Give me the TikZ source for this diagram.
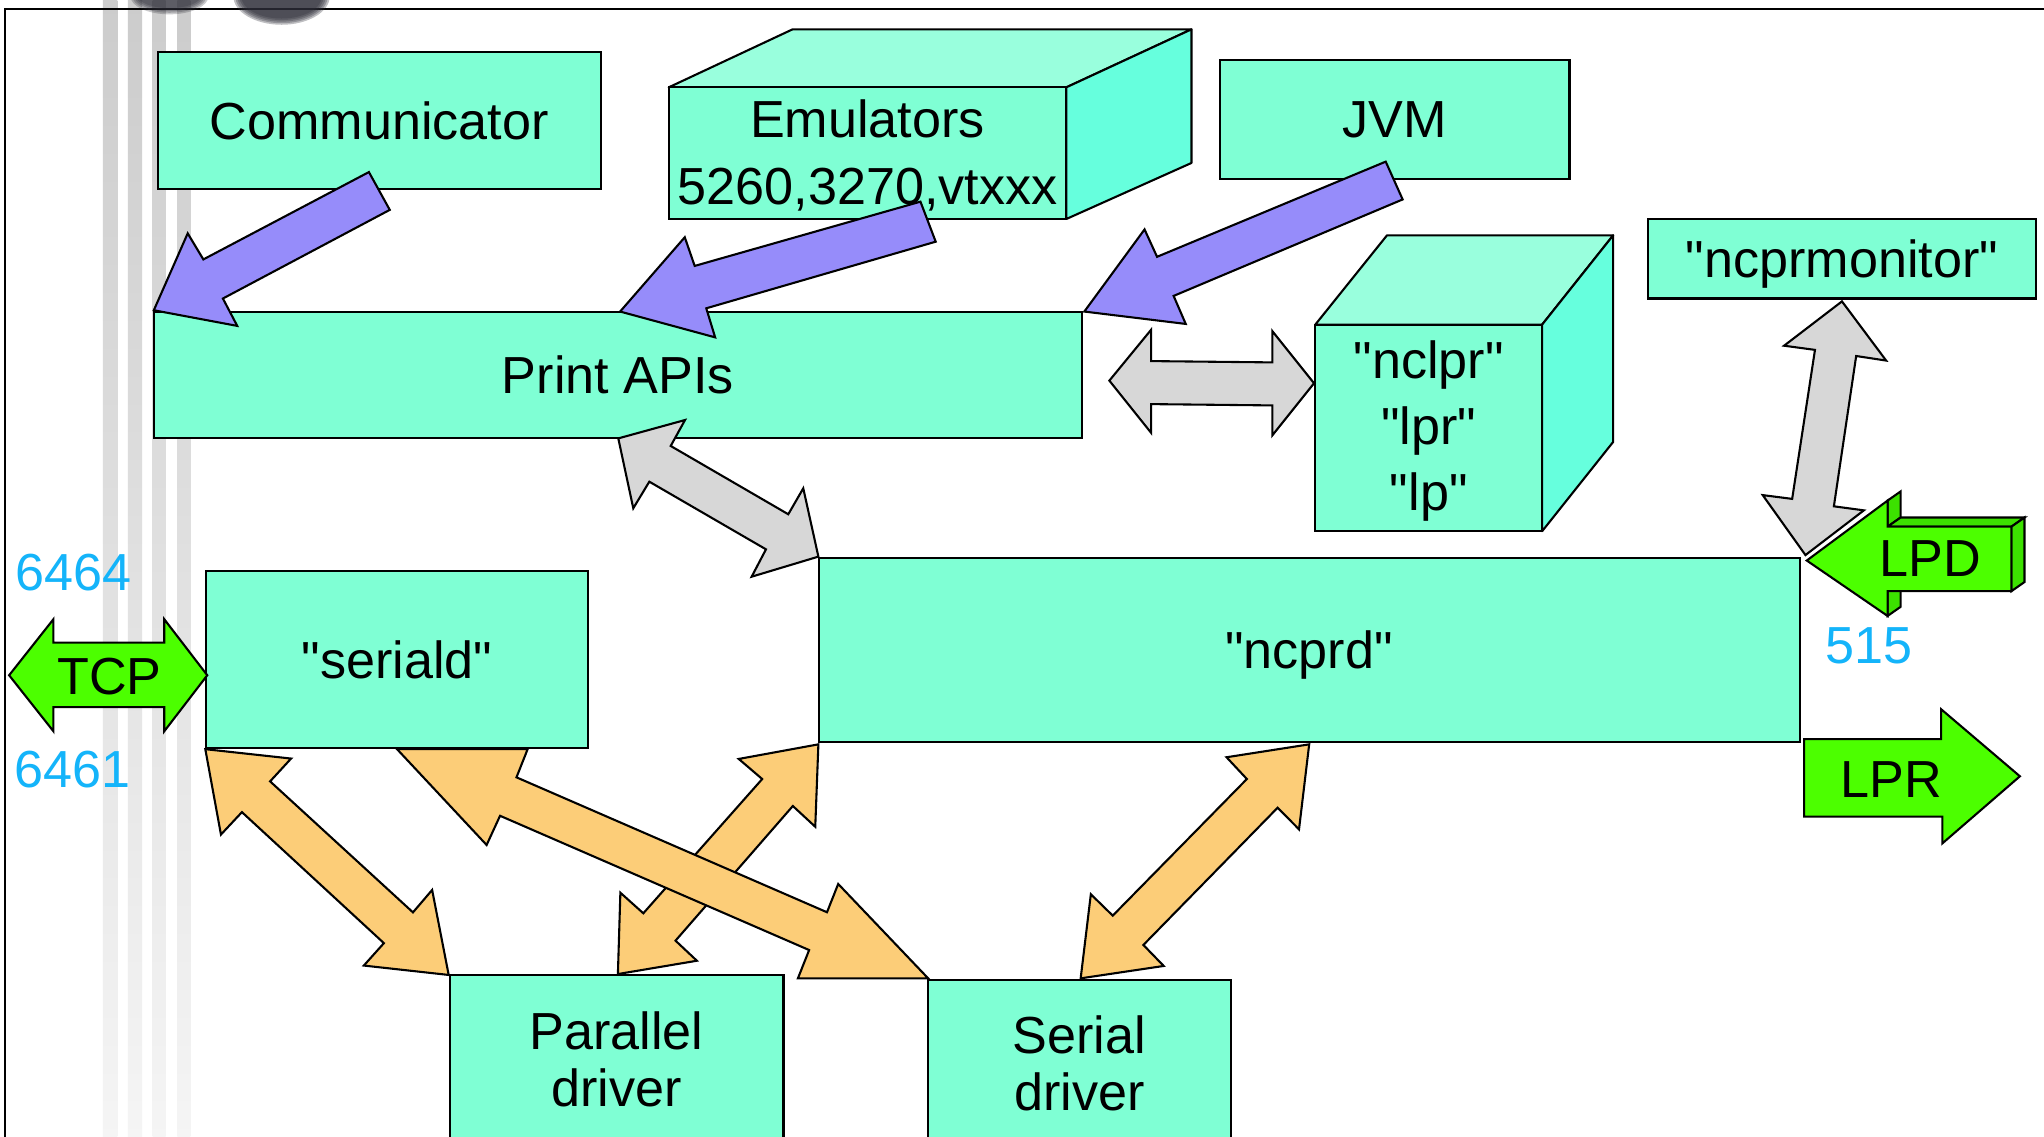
\documentclass[tikz,border=0pt]{standalone}
\usepackage{fontspec}
\newfontfamily\dgface{Liberation Sans}
\newcommand{\dgfont}{\dgface\fontsize{40}{48}\selectfont}
\definecolor{aqua}{RGB}{127,255,212}
\definecolor{aquatop}{RGB}{153,255,221}
\definecolor{aquaside}{RGB}{102,255,221}
\definecolor{purp}{RGB}{150,140,250}
\definecolor{greyfill}{RGB}{215,215,215}
\definecolor{orangefill}{RGB}{252,205,120}
\definecolor{greenA}{RGB}{76,255,0}
\definecolor{greenB}{RGB}{60,225,0}
\definecolor{cyanlbl}{RGB}{20,180,250}
\definecolor{blobc}{RGB}{45,45,55}
\begin{document}
\begin{tikzpicture}[x=1pt,y=-1pt,
  box/.style={draw=black, line width=1.6pt, fill=aqua, inner sep=0pt, outer sep=0pt, font=\dgfont, text depth=0pt, anchor=north west},
  topface/.style={draw=black, line width=1.6pt, fill=aquatop, line join=round},
  sideface/.style={draw=black, line width=1.6pt, fill=aquaside, line join=round},
  lbl/.style={font=\dgfont, inner sep=0pt, anchor=base},
  portlbl/.style={font=\dgfont, inner sep=0pt, text=cyanlbl, anchor=base west},
  barrow/.style={draw=black, line width=1.6pt, line join=miter},
  purparrow/.style={barrow, fill=purp},
  greyarrow/.style={barrow, fill=greyfill},
  orarrow/.style={barrow, fill=orangefill},
  grarrow/.style={barrow, fill=greenA},
  grside/.style={barrow, fill=greenB},
  stripe/.style={top color=black!20, bottom color=black!4, draw=none},
]
\clip (0,0) rectangle (1568,872.2);
\fill[white] (0,0) rectangle (1568,872.2);

% background stripes
\foreach \a/\b in {79/90,98/109,117/127,136/146}
  \shade[stripe] (\a,0) rectangle (\b,872.2);

% frame
\draw[line width=1.5pt] (4.2,880) -- (4.2,7) -- (1575,7);

% dark blurred blobs at the top
\foreach \k in {0,1,2,3,4}{
  \fill[blobc, opacity=0.25] (130,-3) ellipse [x radius={30-1.5*\k}, y radius={14-1.2*\k}];
  \fill[blobc, opacity=0.3] (216,-3) ellipse [x radius={37-1.5*\k}, y radius={22-1.2*\k}];
}

% boxes
\node[box, minimum width=340pt, minimum height=105pt] (comm) at (121,40) {Communicator};

\draw[topface] (513,67) -- (608,22.5) -- (914,22.5) -- (818,67) -- cycle;
\draw[sideface] (818,67) -- (914,22.5) -- (914,125) -- (818,168) -- cycle;
\node[box, minimum width=305pt, minimum height=101pt] (emu) at (513,67) {};
\node[lbl] (emu1) at (665.5,105.3) {Emulators};
\node[lbl] (emu2) at (665.5,156.5) {5260,3270,vtxxx};

\node[box, minimum width=268pt, minimum height=91pt] (jvm) at (936,46) {JVM};

\node[box, minimum width=712pt, minimum height=97pt] (api) at (118,239) {Print APIs};

\draw[topface] (1009,249) -- (1064,180.5) -- (1237.5,180.5) -- (1183,249) -- cycle;
\draw[sideface] (1183,249) -- (1237.5,180.5) -- (1237.5,339) -- (1183,407.5) -- cycle;
\node[box, minimum width=174pt, minimum height=158.5pt] (nclpr) at (1009,249) {};
\node[lbl] (nclpr1) at (1096,290.5) {"nclpr"};
\node[lbl] (nclpr2) at (1096,341) {"lpr"};
\node[lbl] (nclpr3) at (1096,391.5) {"lp"};

\node[box, minimum width=298pt, minimum height=61pt] (mon) at (1264,168) {"ncprmonitor"};
\node[box, minimum width=752.5pt, minimum height=141pt] (ncprd) at (628,428) {"ncprd"};
\node[box, minimum width=293pt, minimum height=136pt] (seriald) at (158,438) {"seriald"};

\node[box, minimum width=256pt, minimum height=140pt] (pdrv) at (345,748) {};
\node[lbl] (pdrv1) at (473,805) {Parallel};
\node[lbl] (pdrv2) at (473,848.5) {driver};
\node[box, minimum width=232pt, minimum height=140pt] (sdrv) at (712,752) {};
\node[lbl] (sdrv1) at (828,808) {Serial};
\node[lbl] (sdrv2) at (828,852) {driver};

% purple arrows into Print APIs
\draw[purparrow] (118,238) -- (144,179) -- (156,199) -- (283,132) -- (299,161) -- (171,229) -- (182,250) -- cycle;
\draw[purparrow] (475.7,239) -- (525.3,182) -- (532.9,204) -- (706.1,154.7) -- (717.8,185.4) -- (541.8,236.5) -- (548.6,258.8) -- cycle;
\draw[purparrow] (831.8,239) -- (878,176) -- (887.6,197) -- (1063,124) -- (1076,153) -- (900.3,227) -- (909.6,248.5) -- cycle;

% grey double arrows
\draw[greyarrow] (851,292) -- (883,253) -- (883,277) -- (976,278) -- (976,254) -- (1008,294) -- (976,334) -- (976,311) -- (883,310) -- (883,332) -- cycle;
\draw[greyarrow] (474.3,336.3) -- (525.5,322.2) -- (514.5,342.1) -- (604.7,394.5) -- (616.2,374.6) -- (627.8,427) -- (576.6,442.4) -- (587.6,421.4) -- (498.1,369.5) -- (485.8,389.9) -- cycle;
\draw[greyarrow] (1413,231.2) -- (1446.9,276.6) -- (1423.9,273.1) -- (1406.8,388.4) -- (1429.8,391.5) -- (1385,425.8) -- (1352.2,379.8) -- (1374.8,382.7) -- (1392.3,268.4) -- (1368.6,265.2) -- cycle;

% orange double arrows
\draw[orarrow] (157.5,574.7) -- (223.3,581.9) -- (207.2,599.4) -- (316.8,699.9) -- (331.5,682.7) -- (344.2,747.9) -- (279.1,740.7) -- (294.5,723.5) -- (185.6,623) -- (169.5,640.2) -- cycle;
\draw[orarrow] (627.8,571) -- (625.4,634.2) -- (608.2,618.3) -- (518.2,721.6) -- (534.6,737) -- (474,747.2) -- (475.9,684.8) -- (493.5,700.6) -- (584.7,597.6) -- (566.7,582.2) -- cycle;
\draw[orarrow] (304.5,574.6) -- (373.3,648.2) -- (383.6,625.8) -- (620.7,728.8) -- (612.1,750.5) -- (712,750.5) -- (643,678.1) -- (634.4,699.8) -- (396.2,596.3) -- (404.8,574.6) -- cycle;
\draw[orarrow] (1004.3,571) -- (996.5,636.2) -- (980.1,619.6) -- (877.1,724.9) -- (892.7,741) -- (829,750.5) -- (836.8,686) -- (853.6,702.4) -- (956.5,597.6) -- (940.9,580.9) -- cycle;

% green arrows
\draw[grarrow] (7,518) -- (41,475) -- (41,493) -- (126,493) -- (126,475) -- (159,518) -- (126,561) -- (126,542.5) -- (41,542.5) -- (41,561) -- cycle;
\node[lbl] (tcp) at (84,532.5) {TCP};

\draw[grside] (1448,384) -- (1458,377) -- (1458,397) -- (1448,404) -- cycle;
\draw[grside] (1448,404) -- (1458,397) -- (1553,397) -- (1543,404) -- cycle;
\draw[grside] (1543,404) -- (1553,397) -- (1553,446.5) -- (1543,453.5) -- cycle;
\draw[grside] (1448,453.5) -- (1458,446.5) -- (1458,465.5) -- (1448,472.5) -- cycle;
\draw[grarrow] (1386,430) -- (1448,384) -- (1448,404) -- (1543,404) -- (1543,453.5) -- (1448,453.5) -- (1448,472.5) -- cycle;
\node[lbl] (lpd) at (1481,442.4) {LPD};

\draw[grarrow] (1384,567) -- (1489,567) -- (1489,544) -- (1549.5,595.5) -- (1490,647) -- (1490,626.5) -- (1384,626.5) -- cycle;
\node[lbl] (lpr) at (1451,611.6) {LPR};

% port numbers
\node[portlbl] (p6464) at (12,452.9) {6464};
\node[portlbl] (p6461) at (11,604.3) {6461};
\node[portlbl] (p515) at (1400,509) {515};
\end{tikzpicture}
\end{document}
